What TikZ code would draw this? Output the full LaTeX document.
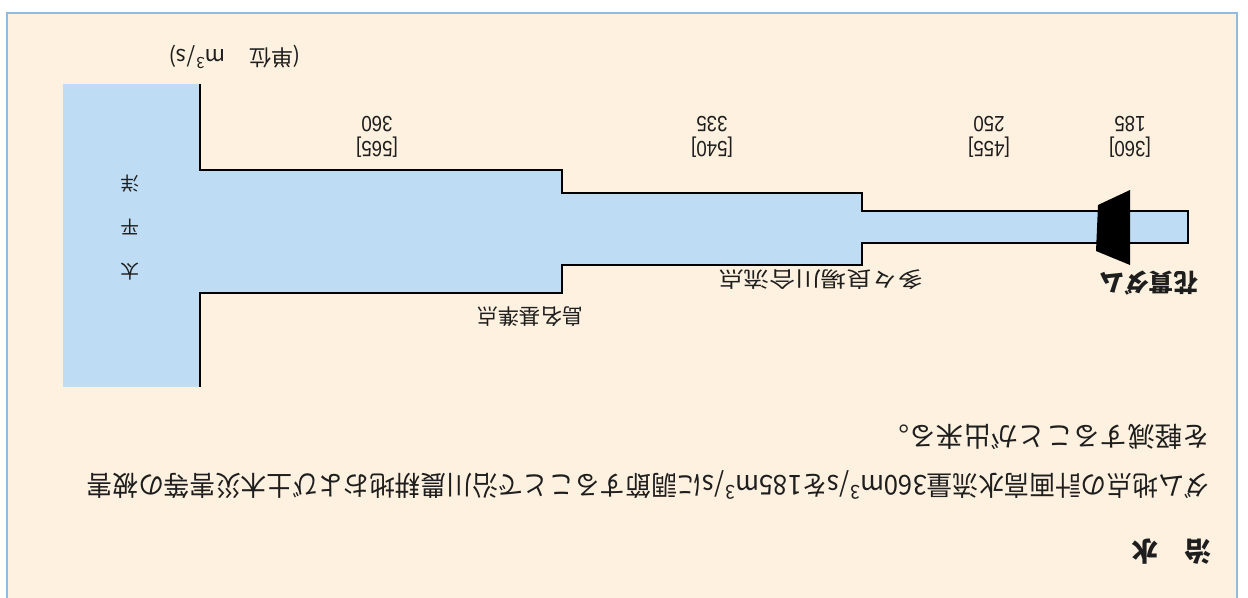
\documentclass[tikz,border=0pt]{standalone}
\usepackage{fontspec}
\setmainfont{Noto Sans CJK JP}
\newfontfamily\numfont[FakeStretch=0.85]{Liberation Sans}
\definecolor{paper}{HTML}{FEF1DF}
\definecolor{frameblue}{HTML}{8FBDE2}
\definecolor{water}{HTML}{BEDDF4}
\definecolor{ink}{HTML}{1E1E1E}
\tikzset{
  lbl/.style={rotate=180, inner sep=0pt, text=ink},
  numlbl/.style={lbl, font=\numfont\fontsize{16.5}{18}\selectfont},
  placelbl/.style={lbl, font=\fontsize{16}{18}\selectfont},
  bodytext/.style={lbl, anchor=west, font=\fontsize{20.5}{24}\selectfont},
  outline/.style={draw=black, line width=1.3pt, line join=miter},
}
\begin{document}
\begin{tikzpicture}[x=0.75pt,y=-0.75pt]
\useasboundingbox (0,0) rectangle (1248,598);
% frame
\fill[white] (0,0) rectangle (1248,598);
\fill[paper] (7,13) rectangle (1237,598);
\draw[frameblue, line width=1.2pt] (7,600) -- (7,13) -- (1237,13) -- (1237,600);
% water
\fill[water] (63,84) rectangle (200,387);
\fill[water] (200,170) -- (562,170) -- (562,193) -- (862,193) -- (862,211) -- (1188,211)
  -- (1188,243) -- (862,243) -- (862,265) -- (562,265) -- (562,293) -- (200,293) -- cycle;
\draw[outline] (200,84) -- (200,170) -- (562,170) -- (562,193) -- (862,193) -- (862,211) -- (1188,211)
  -- (1188,243) -- (862,243) -- (862,265) -- (562,265) -- (562,293) -- (200,293) -- (200,387);
% dam
\fill[black] (1098,205) -- (1130,190) -- (1130,265) -- (1096,251) -- cycle;
% unit
\node[lbl, font=\fontsize{16.5}{18}\selectfont] (unit) at (235,57) {(単位\hspace{1.1em}m\textsuperscript{3}/s)};
% sea
\node[lbl, align=center, font=\fontsize{14}{33}\selectfont] (sea) at (130,228) {太\\平\\洋};
% discharges
\node[numlbl] (n1) at (1130,124) {185};
\node[numlbl] (n1b) at (1130,147) {[360]};
\node[numlbl] (n2) at (989,124) {250};
\node[numlbl] (n2b) at (989,147) {[455]};
\node[numlbl] (n3) at (712,124) {335};
\node[numlbl] (n3b) at (712,147) {[540]};
\node[numlbl] (n4) at (377,124) {360};
\node[numlbl] (n4b) at (377,147) {[565]};
% places
\node[lbl, font=\bfseries\fontsize{18.5}{20}\selectfont] (dam) at (1149,283) {花貫ダム};
\node[placelbl] (conf) at (821,280) {\scalebox{1.2}[1]{多々良場川合流点}};
\node[placelbl] (base) at (530,317) {島名基準点};
% text
\node[bodytext, font=\bfseries\fontsize{20}{24}\selectfont] (title) at (1212,552) {治　水};
\node[bodytext] (line1) at (1210,485) {\scalebox{0.94}[1]{ダム地点の計画高水流量360m\textsuperscript{3}/sを185m\textsuperscript{3}/sに調節することで沿川農耕地および土木災害等の被害}};
\node[bodytext] (line2) at (1210,437) {を軽減することが出来る。};
\end{tikzpicture}
\end{document}
